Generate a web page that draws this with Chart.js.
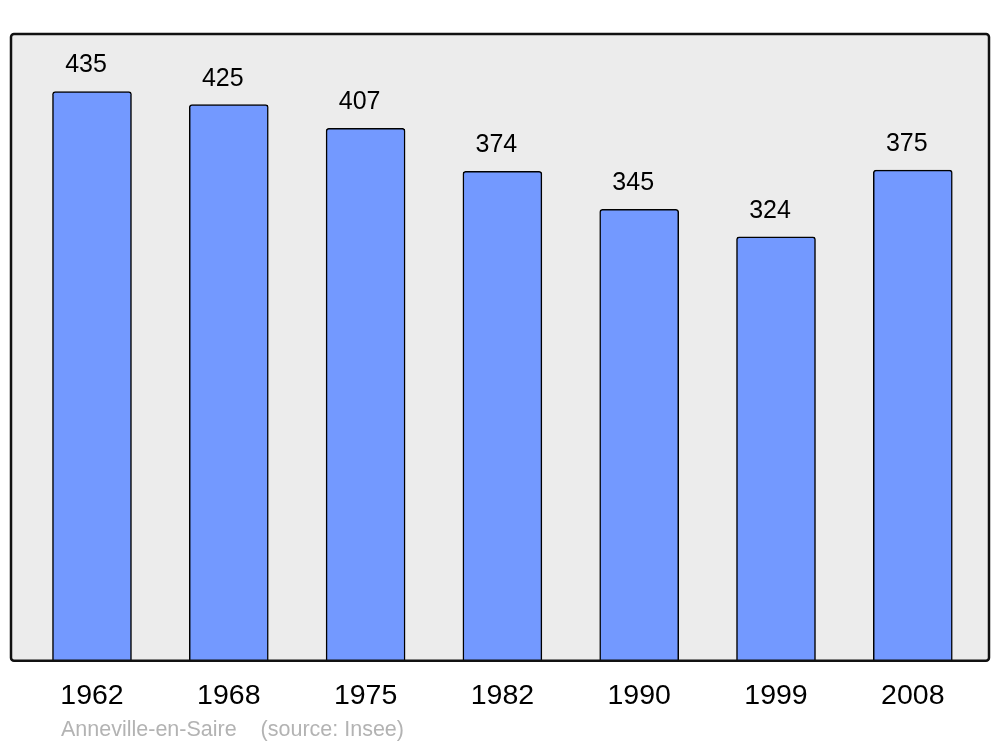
<!DOCTYPE html>
<html lang="fr">
<head>
    <meta charset="UTF-8">
    <title>Anneville-en-Saire - population</title>
    <script src="https://cdn.jsdelivr.net/npm/chart.js"></script>
    <style>
        html, body { margin: 0; padding: 0; background: #fff; }
        #wrap { width: 1000px; height: 747px; }
    </style>
</head>
<body>
    <div id="wrap"><canvas id="popChart"></canvas></div>

    <script>
        const years = ['1962', '1968', '1975', '1982', '1990', '1999', '2008'];
        const population = [435, 425, 407, 374, 345, 324, 375];
        const sourceText = 'Anneville-en-Saire    (source: Insee)';

        // fond gris + cadre noir autour de la zone du graphe
        const frame = {
            id: 'frame',
            beforeDatasetsDraw(chart) {
                const { ctx, chartArea: a } = chart;
                ctx.save();
                ctx.beginPath();
                ctx.roundRect(a.left, a.top, a.right - a.left, a.bottom - a.top, 3);
                ctx.fillStyle = '#ececec';
                ctx.fill();
                ctx.restore();
            },
            afterDatasetsDraw(chart) {
                const { ctx, chartArea: a } = chart;
                ctx.save();
                ctx.beginPath();
                ctx.roundRect(a.left, a.top, a.right - a.left, a.bottom - a.top, 3);
                ctx.lineWidth = 2.5;
                ctx.strokeStyle = '#111';
                ctx.stroke();

                // valeurs au-dessus des barres (un peu décalées à gauche comme l'original)
                ctx.font = '25px "Liberation Sans", Arial, sans-serif';
                ctx.fillStyle = '#000';
                ctx.textAlign = 'center';
                ctx.textBaseline = 'middle';
                chart.getDatasetMeta(0).data.forEach((bar, i) => {
                    ctx.fillText(population[i], bar.x - 6, bar.y - 26);
                });

                // source
                ctx.font = '21.5px "Liberation Sans", Arial, sans-serif';
                ctx.fillStyle = '#b3b3b3';
                ctx.textAlign = 'left';
                ctx.fillText(sourceText.replace(/ /g, '\u00a0'), 61, 730);
                ctx.restore();
            }
        };

        new Chart(document.getElementById('popChart'), {
            type: 'bar',
            data: {
                datasets: [{
                    data: population.map((v, i) => ({ x: i, y: v })),
                    backgroundColor: '#7399ff',
                    borderColor: '#000',
                    borderWidth: 1.5,
                    borderSkipped: 'bottom',
                    borderRadius: { topLeft: 3, topRight: 3 },
                    barThickness: 79
                }]
            },
            options: {
                responsive: true,
                maintainAspectRatio: false,
                animation: false,
                layout: { padding: { top: 34, left: 11, right: 11, bottom: 16 } },
                plugins: {
                    legend: { display: false },
                    tooltip: { enabled: false }
                },
                scales: {
                    x: {
                        type: 'linear',
                        offset: false,
                        min: -0.592,
                        max: 6.557,
                        grid: { display: false, drawTicks: false },
                        border: { display: false },
                        afterBuildTicks(axis) {
                            axis.ticks = years.map((_, i) => ({ value: i }));
                        },
                        ticks: {
                            padding: 18,
                            autoSkip: false,
                            maxRotation: 0,
                            color: '#000',
                            font: { family: '"Liberation Sans", Arial, sans-serif', size: 28.5 },
                            callback: (v) => years[v]
                        }
                    },
                    y: {
                        display: false,
                        min: 0,
                        max: 479
                    }
                }
            },
            plugins: [frame]
        });
    </script>
</body>
</html>
